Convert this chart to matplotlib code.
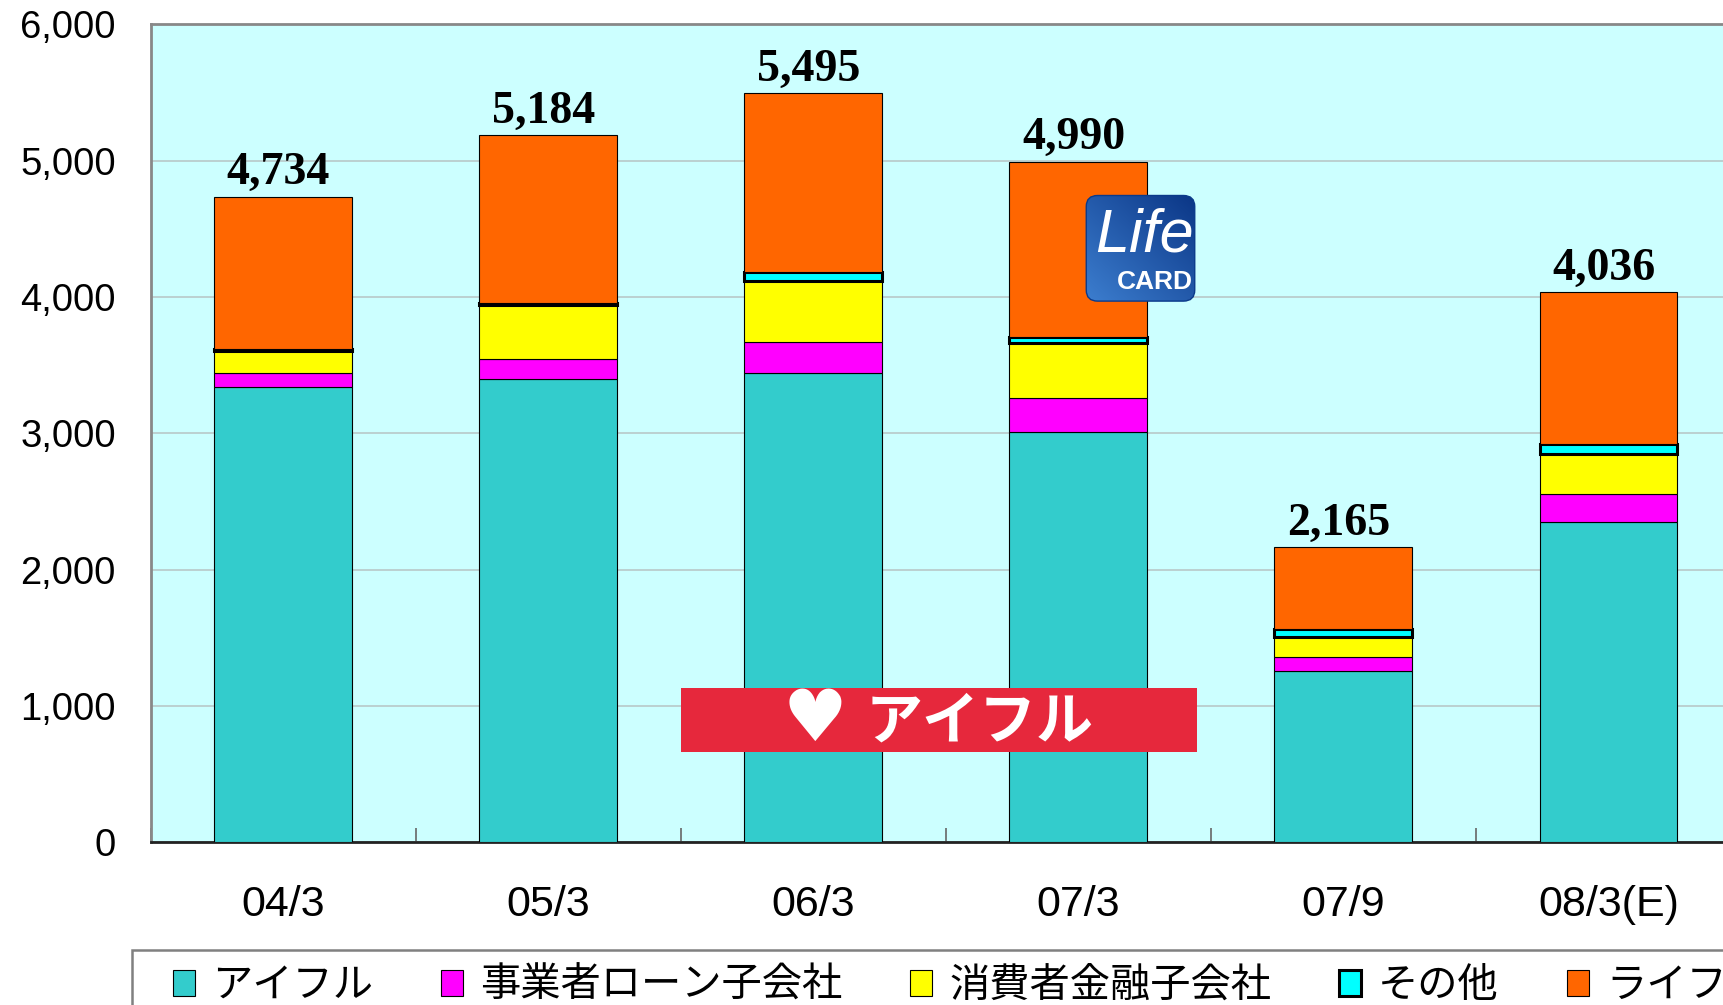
import numpy as np
import matplotlib
matplotlib.use('Agg')
import matplotlib.pyplot as plt
from matplotlib.patches import Rectangle, FancyBboxPatch
from matplotlib.font_manager import FontProperties

plt.rcParams['font.family'] = ['Liberation Sans', 'Noto Sans CJK JP', 'DejaVu Sans']

# ---------------- data ----------------
categories = ['04/3', '05/3', '06/3', '07/3', '07/9', '08/3(E)']
aiful = [3337, 3395, 3439, 3006, 1258, 2346]
jigyosha = [102, 147, 228, 250, 103, 208]
shohisha = [166, 398, 449, 408, 142, 293]
sonota = [15, 15, 64, 40, 58, 76]
life = [1114, 1229, 1315, 1286, 604, 1113]
totals = [4734, 5184, 5495, 4990, 2165, 4036]
series_names = ['アイフル', '事業者ローン子会社', '消費者金融子会社', 'その他', 'ライフ']
yticks = [0, 1000, 2000, 3000, 4000, 5000, 6000]

colors = ['#33CCCC', '#FF00FF', '#FFFF00', '#00FFFF', '#FF6600']
W, H = 1724, 1005

fig = plt.figure(figsize=(W / 100, H / 100), dpi=100)
ax = fig.add_axes([150.6 / W, 1 - 842.2 / H, 1590.4 / W, (842.2 - 24.2) / H])
ax.set_facecolor('#CCFFFF')

x = np.arange(len(categories))
bottom = np.zeros(len(categories))
handles = []
for name, vals, c in zip(series_names, [aiful, jigyosha, shohisha, sonota, life], colors):
    lw = 2.2 if name == 'その他' else 0.8
    b = ax.bar(x, vals, 0.52, bottom=bottom, color=c, edgecolor='black',
               linewidth=lw, zorder=3, label=name)
    handles.append(b)
    bottom += np.array(vals)

for i, t in enumerate(totals):
    ax.annotate(f'{t:,}', xy=(i, t), xytext=(-3.5, 9), textcoords='offset points',
                ha='center', va='baseline', fontsize=33, fontweight='bold',
                family='Liberation Serif', zorder=5)

ax.set_xlim(-0.5, 5.5)
ax.set_ylim(0, 6000)
ax.set_yticks(yticks)
ax.set_yticklabels([f'{v:,}' for v in yticks])
ax.tick_params(axis='y', length=0, pad=25, labelsize=27.5)

ax.set_xticks(np.arange(-0.5, 6.0, 1.0))
ax.set_xticklabels([])
ax.tick_params(axis='x', which='major', direction='in', length=10, width=1.2, color='#666666')
ax.set_xticks(x, minor=True)
ax.set_xticklabels(categories, minor=True)
ax.tick_params(axis='x', which='minor', length=0, pad=31, labelsize=31)

ax.yaxis.grid(True, color='#B8C8C8', linewidth=1.2)
ax.set_axisbelow(True)
for s in ['left', 'top', 'right']:
    ax.spines[s].set_color('#888888')
    ax.spines[s].set_linewidth(2)
ax.spines['bottom'].set_color('#222222')
ax.spines['bottom'].set_linewidth(2)

# ---------------- Life CARD logo ----------------
lx0, lx1, ly0, ly1 = 1084, 1197, 193.3, 303.3
axl = fig.add_axes([lx0 / W, 1 - ly1 / H, (lx1 - lx0) / W, (ly1 - ly0) / H], zorder=6)
axl.set_xlim(0, 1)
axl.set_ylim(0, 1)
axl.axis('off')
card = FancyBboxPatch((0.02, 0.02), 0.96, 0.96, boxstyle='round,pad=0,rounding_size=0.1',
                      facecolor='none', edgecolor='#0b3a8a', linewidth=1)
axl.add_patch(card)
gy, gx = np.mgrid[0:1:100j, 0:1:100j]
grad = (gx + (1 - gy)) / 2.0
img = axl.imshow(grad, extent=(0, 1, 0, 1), origin='upper',
                 cmap=matplotlib.colors.LinearSegmentedColormap.from_list('c', ['#3d7fd0', '#0a3585']),
                 aspect='auto')
img.set_clip_path(card)
axl.text(0.10, 0.47, 'Life', color='white', fontsize=44, style='italic',
         ha='left', va='baseline', family='Liberation Sans')
axl.text(0.965, 0.13, 'CARD', color='white', fontsize=19, fontweight='bold',
         ha='right', va='baseline', family='Liberation Sans')

# ---------------- Aiful banner ----------------
ax0, ax1, ay0, ay1 = 681, 1197, 687.7, 752.3
axa = fig.add_axes([ax0 / W, 1 - ay1 / H, (ax1 - ax0) / W, (ay1 - ay0) / H], zorder=6)
axa.set_xlim(0, 1)
axa.set_ylim(0, 1)
axa.axis('off')
axa.add_patch(Rectangle((0, 0), 1, 1, facecolor='#E6283C', edgecolor='none'))
axa.text(0.26, 0.47, '♥', color='white', fontsize=52, ha='center', va='center',
         family='DejaVu Sans')
axa.text(0.578, 0.47, 'アイフル', color='white', fontsize=41, fontweight='bold',
         ha='center', va='center', family='Noto Sans CJK JP')

# ---------------- legend ----------------
fig.add_artist(Rectangle((132 / W, -0.2), 1.2, 0.2 + (1 - 950 / H),
                         transform=fig.transFigure, fill=False,
                         edgecolor='#808080', linewidth=1.8))
fig.legend(handles=handles, labels=series_names, loc='upper left',
           bbox_to_anchor=(172.6 / W, 1 - 965 / H), ncol=5, frameon=False,
           borderpad=0, borderaxespad=0, handlelength=0.55, handleheight=0.62,
           handletextpad=0.42, columnspacing=1.69,
           prop=FontProperties(family=['Noto Sans CJK JP', 'DejaVu Sans'], size=29))

fig.savefig('out.png', dpi=100)
